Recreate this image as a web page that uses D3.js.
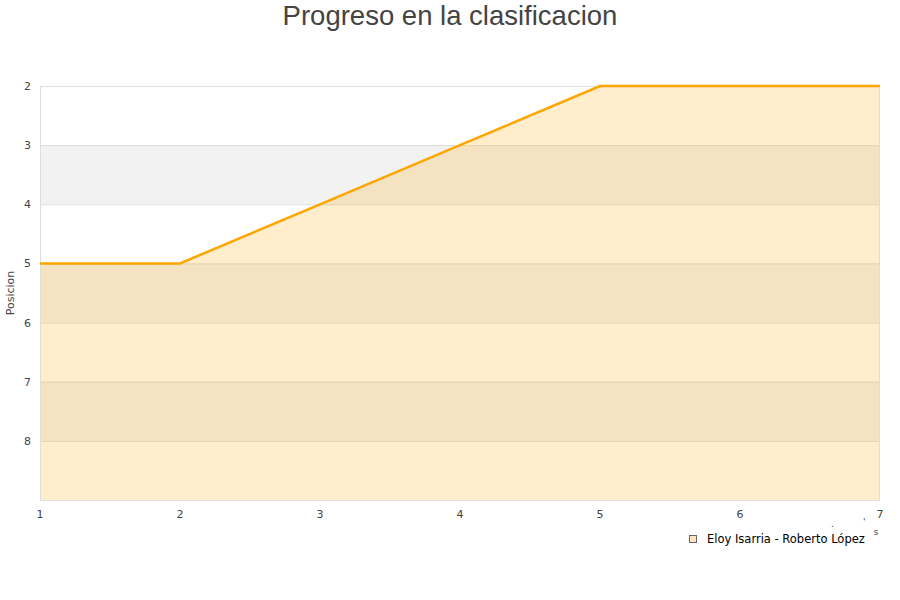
<!DOCTYPE html>
<html><head><meta charset="utf-8">
<script src="https://cdn.jsdelivr.net/npm/d3@7"></script>
<style>body{margin:0;background:#fff}</style>
</head><body>
<svg id="c" width="900" height="600"></svg>
<script>
const jornadas = [1, 2, 3, 4, 5, 6, 7];
const posiciones = [5, 5, 4, 3, 2, 2, 2];
const yTicks = [2, 3, 4, 5, 6, 7, 8];
const serieNombre = "Eloy Isarria - Roberto López";
const titulo = "Progreso en la clasificacion";

const svg = d3.select("#c");
const L = 40, R = 880, T = 86, B = 500;
const x = d3.scaleLinear().domain([1, 7]).range([L, R]);
const y = d3.scaleLinear().domain([2, 9]).range([T, B]);

// alternating bands
const bands = d3.range(2, 9);
svg.append("g").selectAll("rect").data(bands).join("rect")
  .attr("x", L).attr("width", R - L)
  .attr("y", d => y(d)).attr("height", d => y(d + 1) - y(d))
  .attr("fill", d => (d % 2 === 1) ? "#f2f2f2" : "#ffffff");

// grid lines
svg.append("g").selectAll("line").data(d3.range(2, 10)).join("line")
  .attr("x1", L).attr("x2", R)
  .attr("y1", d => y(d) + 0.5).attr("y2", d => y(d) + 0.5)
  .attr("stroke", "#dddddd").attr("stroke-width", 1);

// area
const area = d3.area().x((d, i) => x(jornadas[i])).y0(y(9)).y1(d => y(d));
svg.append("path").datum(posiciones).attr("d", area)
  .attr("fill", "rgba(255,165,0,0.2)");

// border
svg.append("rect").attr("x", L + 0.5).attr("y", T + 0.5)
  .attr("width", R - L - 1).attr("height", B - T)
  .attr("fill", "none").attr("stroke", "#dddddd");

// line
const line = d3.line().x((d, i) => x(jornadas[i])).y(d => y(d));
svg.append("path").datum(posiciones).attr("d", line)
  .attr("fill", "none").attr("stroke", "#ffa500").attr("stroke-width", 2.5);

// axes
const font = "'DejaVu Sans', sans-serif";
svg.append("g").selectAll("text").data(yTicks).join("text")
  .attr("x", 31).attr("y", d => y(d) + 4)
  .attr("text-anchor", "end").style("font-family", font).attr("font-size", 11)
  .attr("fill", "#444").text(d => d);
svg.append("g").selectAll("text").data(jornadas).join("text")
  .attr("x", d => x(d)).attr("y", 518)
  .attr("text-anchor", "middle").style("font-family", font).attr("font-size", 11)
  .attr("fill", "#444").text(d => d);

svg.append("text").attr("transform", "translate(14,293) rotate(-90)")
  .attr("text-anchor", "middle").style("font-family", font).attr("font-size", 11)
  .attr("fill", "#444").text("Posicion");

svg.append("text").attr("x", 876).attr("y", 535)
  .attr("text-anchor", "middle").style("font-family", font).attr("font-size", 9)
  .attr("fill", "#444").text("s");
svg.append("text").attr("x", 831).attr("y", 527)
  .style("font-family", font).attr("font-size", 9)
  .attr("fill", "#444").text(".");
svg.append("text").attr("x", 863).attr("y", 525)
  .style("font-family", font).attr("font-size", 9)
  .attr("fill", "#444").text("'");

// title
svg.append("text").attr("x", 450).attr("y", 25)
  .attr("text-anchor", "middle").style("font-family", "'Liberation Sans', Arial, sans-serif")
  .attr("font-size", 27.5).attr("fill", "#444").text(titulo);

// legend
svg.append("rect").attr("x", 689.5).attr("y", 535.5).attr("width", 7).attr("height", 7)
  .attr("fill", "#fde6bb").attr("stroke", "#666").attr("stroke-width", 1);
svg.append("text").attr("x", 707).attr("y", 543)
  .style("font-family", font).attr("font-size", 11.5).attr("fill", "#000")
  .text(serieNombre);
</script>
</body></html>
